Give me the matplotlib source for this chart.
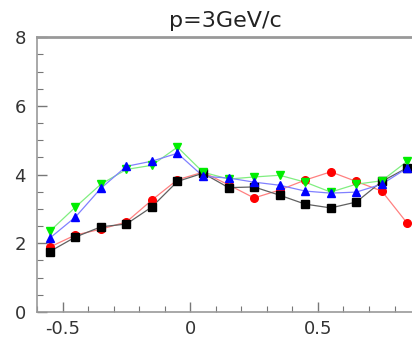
import numpy as np
import matplotlib.pyplot as plt

# bin centres
x = [-0.55, -0.45, -0.35, -0.25, -0.15, -0.05, 0.05, 0.15,
     0.25, 0.35, 0.45, 0.55, 0.65, 0.75, 0.85]

red = [1.89, 2.24, 2.41, 2.62, 3.26, 3.85, 4.07, 3.70,
       3.32, 3.55, 3.84, 4.08, 3.80, 3.52, 2.58]
black = [1.76, 2.18, 2.48, 2.56, 3.06, 3.80, 4.04, 3.62,
         3.64, 3.40, 3.14, 3.03, 3.20, 3.80, 4.20]
green = [2.35, 3.05, 3.72, 4.15, 4.27, 4.80, 4.07, 3.87,
         3.93, 3.98, 3.78, 3.49, 3.72, 3.82, 4.39]
blue = [2.15, 2.76, 3.60, 4.24, 4.39, 4.62, 3.95, 3.90,
        3.78, 3.69, 3.52, 3.46, 3.49, 3.72, 4.19]

title = "p=3GeV/c"

fig = plt.figure(figsize=(4.12, 3.44), dpi=100)
ax = fig.add_axes([0.0898, 0.093, 0.915, 0.799])

series = [
    (red, 'o', '#ff0000', '#ff8080'),
    (black, 's', '#000000', '#606060'),
    (green, 'v', '#00ee00', '#80ee80'),
    (blue, '^', '#0000ff', '#8080ff'),
]
for vals, mk, mc, lc in series:
    ax.plot(x, vals, color=lc, lw=0.9, zorder=2)
    ax.plot(x, vals, ls='none', marker=mk, ms=5.5, mfc=mc, mec=mc, zorder=3)

ax.set_xlim(-0.6, 0.876)
ax.set_ylim(0, 8)
ax.set_xticks([-0.5, 0, 0.5])
ax.set_xticklabels(['-0.5', '0', '0.5'])
ax.set_xticks(np.arange(-0.6, 0.9, 0.1), minor=True)
ax.set_yticks([0, 2, 4, 6, 8])
ax.set_yticks(np.arange(0, 8.01, 0.5), minor=True)

ax.tick_params(which='both', direction='in', color='#777777',
               labelcolor='#333333', labelsize=13)
ax.tick_params(which='major', length=7, width=1)
ax.tick_params(which='minor', length=4, width=0.8)
ax.tick_params(axis='y', pad=8)
ax.tick_params(axis='x', pad=6)

for s in ['left', 'bottom', 'top']:
    ax.spines[s].set_color('#999999')
    ax.spines[s].set_linewidth(1.2)
ax.spines['top'].set_linewidth(2)
ax.spines['right'].set_visible(False)

ax.set_title(title, fontsize=16, color='#222222', pad=7)

fig.savefig('out.png', dpi=100)
